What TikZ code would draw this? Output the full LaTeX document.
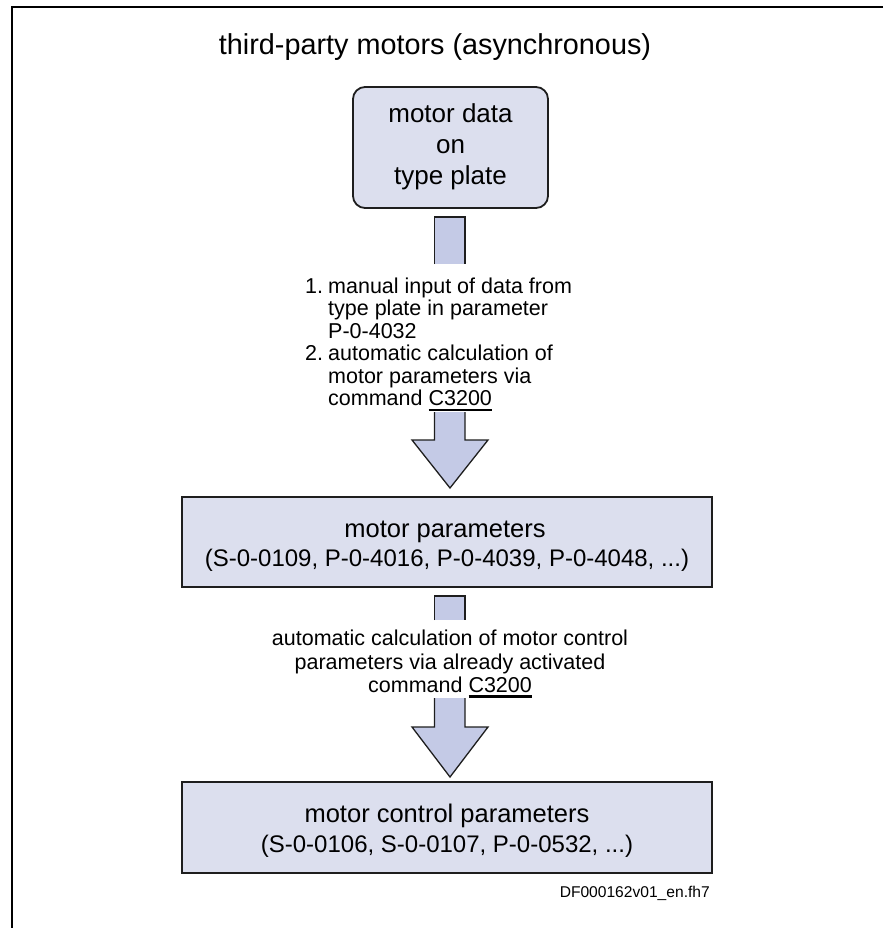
\documentclass[tikz,border=0pt]{standalone}
\usepackage{fontspec}
\setmainfont{Liberation Sans}
\definecolor{boxfill}{RGB}{220,223,238}
\definecolor{arrowfill}{RGB}{196,202,230}
\definecolor{edge}{RGB}{30,30,30}
\newcommand\myul[1]{\setbox0\hbox{#1}\rlap{\vrule width\wd0 height -3.2pt depth 5.6pt}\box0}
\begin{document}
\begin{tikzpicture}[x=1pt,y=-1pt,
  plainbox/.style={draw=edge,line width=2.6pt,fill=boxfill},
  roundbox/.style={draw=edge,line width=1.8pt,fill=boxfill,rounded corners=12pt},
  blockarrow/.style={draw=edge,line width=1.3pt,fill=arrowfill,line join=miter},
  boxtext/.style={font=\fontsize{26}{31}\selectfont,inner sep=0pt,anchor=base},
  headtext/.style={font=\fontsize{25.5}{30}\selectfont,inner sep=0pt,anchor=base},
  listtext/.style={font=\fontsize{24}{29}\selectfont,inner sep=0pt,anchor=base},
  smalltext/.style={font=\fontsize{21.5}{22.5}\selectfont,inner sep=0pt}]
\useasboundingbox (0,0) rectangle (883,928);
% frame
\draw[line width=2.2pt] (883,7) -- (12,7) -- (12,928);
% title
\node[font=\fontsize{28.8}{34}\selectfont,anchor=base,inner sep=0pt] (title) at (435,55) {third-party motors (asynchronous)};
% top rounded box
\draw[roundbox] (353,87) rectangle (548,208);
\node[boxtext] (t1) at (450.5,123) {motor data};
\node[boxtext] (t2) at (450.5,154) {on};
\node[boxtext] (t3) at (450.5,185) {type plate};
% arrow 1
\filldraw[blockarrow] (434.5,264) -- (434.5,217) -- (465,217) -- (465,264);
\node[smalltext,anchor=base west] (n1) at (305,293) {1.};
\node[smalltext,anchor=base west] (l1) at (328,293) {manual input of data from};
\node[smalltext,anchor=base west] (l2) at (328,315.5) {type plate in parameter};
\node[smalltext,anchor=base west] (l3) at (328,338) {P-0-4032};
\node[smalltext,anchor=base west] (n2) at (305,360.5) {2.};
\node[smalltext,anchor=base west] (l4) at (328,360.5) {automatic calculation of};
\node[smalltext,anchor=base west] (l5) at (328,383) {motor parameters via};
\node[smalltext,anchor=base west] (l6) at (328,405.5) {command \myul{C3200}};
\filldraw[blockarrow] (434.5,412) -- (434.5,440) -- (412,440) -- (450,488) -- (488,440) -- (465,440) -- (465,412);
% middle box
\draw[plainbox] (182,497) rectangle (712,587);
\node[headtext] (m1) at (445,537) {motor parameters};
\node[listtext] (m2) at (447,566) {(S-0-0109, P-0-4016, P-0-4039, P-0-4048, ...)};
% arrow 2
\filldraw[blockarrow] (434.5,620) -- (434.5,596) -- (465,596) -- (465,620);
\node[smalltext,anchor=base] (a1) at (450,645) {automatic calculation of motor control};
\node[smalltext,anchor=base] (a2) at (450,669) {parameters via already activated};
\node[smalltext,anchor=base] (a3) at (450,692) {command \myul{C3200}};
\filldraw[blockarrow] (434.5,698) -- (434.5,727) -- (412,727) -- (450,777) -- (488,727) -- (465,727) -- (465,698);
% bottom box
\draw[plainbox] (182,782) rectangle (712,873);
\node[headtext] (b1) at (447,822) {motor control parameters};
\node[listtext] (b2) at (447,852) {(S-0-0106, S-0-0107, P-0-0532, ...)};
% file id
\node[font=\fontsize{15.6}{18}\selectfont,anchor=base east,inner sep=0pt] (fid) at (710,897) {DF000162v01\_en.fh7};
\end{tikzpicture}
\end{document}
